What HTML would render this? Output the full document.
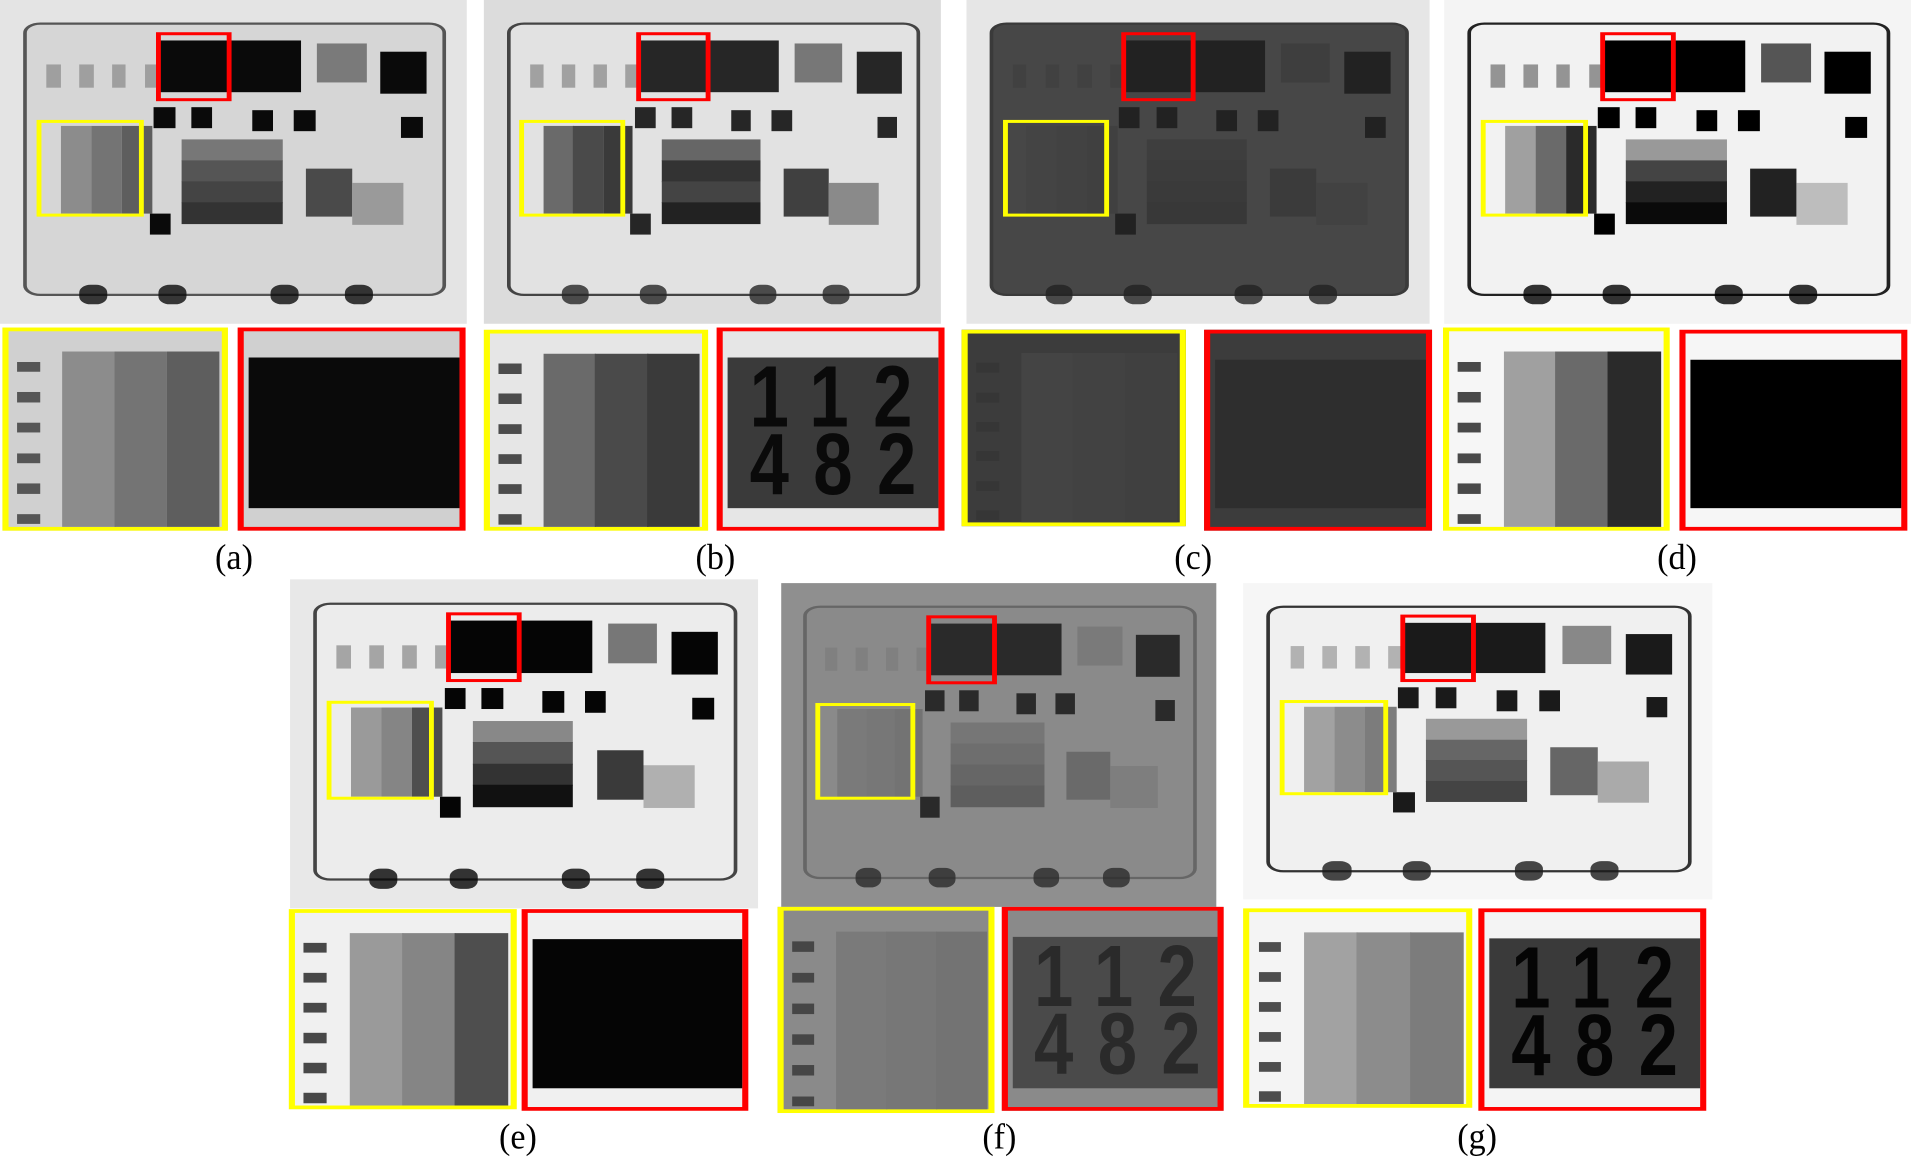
<!DOCTYPE html>
<html><head><meta charset="utf-8">
<style>
html,body{margin:0;padding:0;background:#fff;overflow:hidden;width:1911px;height:1158px}
#stage{position:absolute;left:0;top:0;width:1568px;height:1545px;transform-origin:0 0;transform:scale(1.21875,0.7495);overflow:hidden}
.abs{position:absolute;box-sizing:border-box}
.lbl{position:absolute;font-family:"Liberation Serif",serif;font-size:28px;line-height:28px;color:#000;transform-origin:50% 0;transform:translateX(-50%) scaleY(1.7);white-space:nowrap}
</style></head>
<body>
<div id="stage"></div>
<script>
const panelIds = ['a','b','c','d','e','f','g'];
const mainBoxes = [[0,0,383,432],[397,0,375,432],[793,0,380,432],[1185,0,383,432],[238,773,384,439],[641,778,357,432],[1020,778,385,422]];
const yellowCrops = [[2,437,185,271],[397,440,184,268],[789,440,184,262],[1184,437,186,271],[237,1213,187,267],[638,1210,178,275],[1020,1212,188,266]];
const redCrops = [[195,437,187,271],[588,437,187,271],[988,440,187,268],[1378,440,187,268],[428,1213,186,269],[822,1210,182,272],[1213,1212,187,270]];
const labelPos = [[192,722],[587,722],[979,722],[1376,722],[425,1495],[820,1495],[1212,1495]];
const themes = {
 a:{bg:'#e4e4e4',cs:'#d6d6d6',edge:'#555',dk:'#0a0a0a',gr:'#7a7a7a',st:['#8c8c8c','#747474','#5e5e5e'],band:['#777','#555','#444','#333'],sq:['#4a4a4a','#9a9a9a'],cbg:'#d0d0d0',rdigits:false,rtxt:'#222'},
 b:{bg:'#dcdcdc',cs:'#e2e2e2',edge:'#444',dk:'#262626',gr:'#777',st:['#6a6a6a','#4a4a4a','#3a3a3a'],band:['#666','#333','#444','#222'],sq:['#404040','#8a8a8a'],cbg:'#e6e6e6',rdigits:true,rtxt:'#0a0a0a',rblk:'#3a3a3a'},
 c:{bg:'#e6e6e6',cs:'#474747',edge:'#3a3a3a',dk:'#222',gr:'#3e3e3e',st:['#444','#424242','#404040'],band:['#3e3e3e','#3c3c3c','#3a3a3a','#383838'],sq:['#3b3b3b','#424242'],cbg:'#444',rdigits:false,rtxt:'#333',rblk:'#2e2e2e',ccbg:'#3c3c3c'},
 d:{bg:'#f4f4f4',cs:'#f2f2f2',edge:'#222',dk:'#000',gr:'#555',st:['#a0a0a0','#6a6a6a','#2a2a2a'],band:['#999','#444','#222','#0a0a0a'],sq:['#222','#bdbdbd'],cbg:'#f6f6f6',rdigits:false,rtxt:'#000'},
 e:{bg:'#e8e8e8',cs:'#ececec',edge:'#444',dk:'#050505',gr:'#777',st:['#9a9a9a','#858585','#4e4e4e'],band:['#888','#555','#333','#111'],sq:['#3a3a3a','#b0b0b0'],cbg:'#f0f0f0',rdigits:false,rtxt:'#000'},
 f:{bg:'#8f8f8f',cs:'#8a8a8a',edge:'#666',dk:'#2a2a2a',gr:'#7a7a7a',st:['#7a7a7a','#777','#737373'],band:['#767676','#6e6e6e','#666','#5e5e5e'],sq:['#6a6a6a','#7e7e7e'],cbg:'#8a8a8a',rdigits:true,rtxt:'#2a2a2a',rblk:'#4a4a4a'},
 g:{bg:'#f6f6f6',cs:'#f0f0f0',edge:'#333',dk:'#1a1a1a',gr:'#888',st:['#a2a2a2','#8c8c8c','#7c7c7c'],band:['#999','#666','#555','#444'],sq:['#666','#aaa'],cbg:'#f4f4f4',rdigits:true,rtxt:'#050505',rblk:'#3a3a3a'}
};
const stage = document.getElementById('stage');
function box(parent,x,y,w,h,bg,extra){
  const d=document.createElement('div');
  d.className='abs';
  d.style.left=x+'px';d.style.top=y+'px';d.style.width=w+'px';d.style.height=h+'px';
  if(bg)d.style.background=bg;
  if(extra)d.style.cssText+=extra;
  parent.appendChild(d);
  return d;
}
panelIds.forEach((id,i)=>{
  const t=themes[id];
  const [mx,my,mw,mh]=mainBoxes[i];
  const main=box(stage,mx,my,mw,mh,t.bg,'overflow:hidden');
  
  
  const X=f=>f*mw, Y=f=>f*mh;
  const cs=box(main,X(0.05),Y(0.07),X(0.905),Y(0.845),t.cs,'border:3px solid '+t.edge+';border-radius:14px;');
  
  
  [0.2,0.37,0.61,0.77].forEach(fx=>{
    const ft=box(main,X(fx-0.03),Y(0.88),X(0.06),Y(0.06),t.dk,'border-radius:40%;opacity:0.8');
    
    
  });
  const tb=box(main,X(0.34),Y(0.125),X(0.305),Y(0.16),t.dk);
  
  
  const gb=box(main,X(0.68),Y(0.135),X(0.105),Y(0.12),t.gr);
  
  
  const rb=box(main,X(0.815),Y(0.16),X(0.1),Y(0.13),t.dk);
  
  
  [0.1,0.17,0.24,0.31].forEach(fx=>{
    const m=box(main,X(fx),Y(0.2),X(0.03),Y(0.07),t.gr,'opacity:0.6');
    
    
  });
  [[0.33,0.33],[0.41,0.33],[0.54,0.34],[0.63,0.34],[0.86,0.36],[0.32,0.66]].forEach(p=>{
    const s=box(main,X(p[0]),Y(p[1]),X(0.045),Y(0.065),t.dk);
    
    
  });
  const wx=X(0.39),wy=Y(0.43),ww=X(0.215),wh=Y(0.26);
  t.band.forEach((c,k)=>{
    const b=box(main,wx,wy+k*wh/4,ww,wh/4+1,c);
    
    
  });
  const r1=box(main,X(0.655),Y(0.52),X(0.1),Y(0.15),t.sq[0]);
  
  
  const r2=box(main,X(0.755),Y(0.565),X(0.11),Y(0.13),t.sq[1]);
  
  
  t.st.forEach((c,k)=>{
    const s=box(main,X(0.13+k*0.065),Y(0.39),X(0.066),Y(0.27),c);
    
    
  });
  const yb=box(main,X(0.078),Y(0.37),X(0.23),Y(0.3),null,'border:4px solid #ffff00');
  
  
  const rbx=box(main,X(0.334),Y(0.1),X(0.162),Y(0.213),null,'border:4px solid #ff0000');
  
  

  const [yx,yy,yw,yh]=yellowCrops[i];
  const yc=box(stage,yx,yy,yw,yh,t.ccbg||t.cbg,'border:5px solid #ffff00;overflow:hidden');
  
  
  t.st.forEach((c,k)=>{
    const s=box(yc,(0.24+k*0.23)*yw,0.1*yh,0.23*yw+1,0.92*yh,c);
    
    
  });
  [0.15,0.3,0.45,0.6,0.75,0.9].forEach(fy=>{
    const m=box(yc,0.04*yw,fy*yh,0.1*yw,0.05*yh,t.rtxt,'opacity:0.7');
    
    
  });
  const [rx,ry,rw,rh]=redCrops[i];
  const rc=box(stage,rx,ry,rw,rh,t.ccbg||t.cbg,'border:5px solid #ff0000;overflow:hidden');
  
  
  const blk=box(rc,0.02*rw,0.13*rh,0.98*rw,0.74*rh,t.rblk||t.dk,'overflow:hidden');
  
  
  if(t.rdigits){
    const dg=document.createElement('div');
    dg.className='abs';
    dg.style.cssText='left:10%;top:4%;white-space:nowrap;font-family:"Liberation Sans",sans-serif;font-weight:bold;font-size:58px;line-height:45px;letter-spacing:20px;color:'+t.rtxt+';transform:scaleY(2.0);transform-origin:0 0';
    dg.innerHTML='112<br>482';
    
    
    blk.appendChild(dg);
  }
  const l=document.createElement('div');
  l.className='lbl';
  l.style.left=labelPos[i][0]+'px';l.style.top=labelPos[i][1]+'px';
  l.textContent='('+id+')';
  
  
  stage.appendChild(l);
});
</script>
</body></html>
